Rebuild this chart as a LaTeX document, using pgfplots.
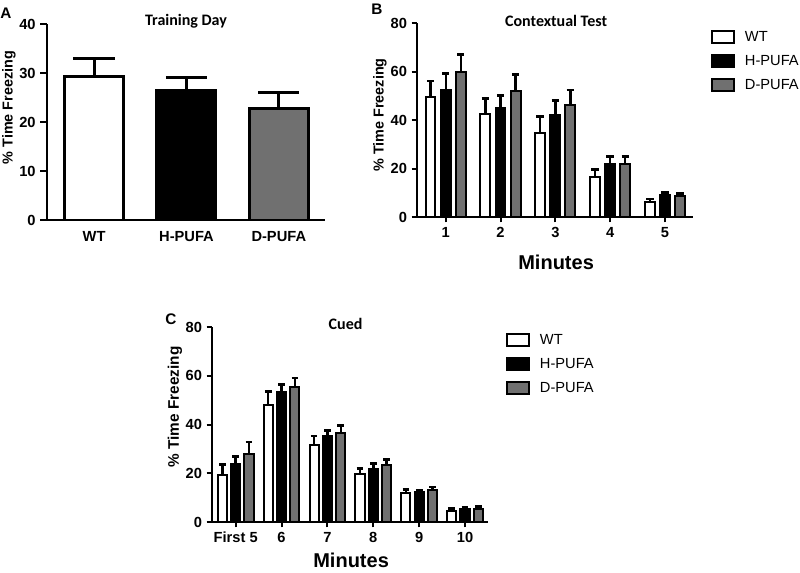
\documentclass[border=0pt]{standalone}
\usepackage{fontspec}
\setmainfont{Liberation Sans}
\newfontfamily\carlito{Carlito}
\usepackage{pgfplots}
\pgfplotsset{compat=1.18}
\definecolor{dgray}{RGB}{112,112,112}

\pgfplotsset{
  panel/.style={
    scale only axis,
    axis lines=left,
    axis line style={-, line width=1.5pt},
    ymin=0,
    ybar,
    clip=false,
    xtick pos=bottom, ytick pos=left,
    ytick style={line width=1.5pt, black},
    xtick style={line width=1.5pt, black},
    tick align=outside,
    major tick length=4pt,
    /pgf/number format/assume math mode=true,
    ticklabel style={font=\bfseries\fontsize{11}{13}\selectfont},
    ylabel={\% Time Freezing},
    ylabel style={font=\bfseries\fontsize{10.8}{12}\selectfont, anchor=center},
    title style={font=\carlito\bfseries\fontsize{12}{14}\selectfont, anchor=center},
    xlabel style={font=\bfseries\fontsize{15}{18}\selectfont, anchor=center},
    legend style={draw=none, fill=none, inner sep=0pt, outer sep=0pt,
      anchor=north west,
      nodes={inner sep=0pt, font=\fontsize{11}{13}\selectfont},
      row sep=7.5pt,
      /tikz/every odd column/.append style={column sep=7.5pt}},
    legend cell align=left,
    legend image code/.code={\draw[##1, line width=1.5pt] (0pt,-4.5pt) rectangle (16.5pt,4.5pt);},
  },
  errb/.style n args={3}{error bars/.cd, y dir=plus, y explicit,
    error bar style={line width=#1, black},
    error mark options={rotate=90, line width=#2, mark size=#3, black}},
}

\begin{document}
\begin{tikzpicture}
\useasboundingbox (0,0) rectangle (600pt,-429pt);

% ---------------- Panel A ----------------
\begin{axis}[panel, at={(35.25pt,-165pt)}, anchor=south west,
  width=208.5pt, height=147pt,
  xmin=0.49, xmax=3.5, ymax=40, ytick={0,10,20,30,40},
  xtick={1,2,3}, xticklabels={WT,H-PUFA,D-PUFA},
  xtick style={draw=none},
  major tick length=5pt,
  bar width=0.64,
  title={Training Day}, title style={at={(axis description cs:0.5,0.974)}},
  ylabel style={at={(axis description cs:-0.137,0.574)}}]
\addplot[fill=white, draw=black, line width=2.2pt, bar shift=0, errb={2.2pt}{2.2pt}{15.5pt}]
  coordinates {(1,29.2) +- (0,3.8)};
\addplot[fill=black, draw=black, line width=2.2pt, bar shift=0, errb={2.2pt}{2.2pt}{15.5pt}]
  coordinates {(2,26.5) +- (0,2.6)};
\addplot[fill=dgray, draw=black, line width=2.2pt, bar shift=0, errb={2.2pt}{2.2pt}{15.5pt}]
  coordinates {(3,22.8) +- (0,3.2)};
\end{axis}

% ---------------- Panel B ----------------
\begin{axis}[panel, at={(312.75pt,-162.75pt)}, anchor=south west,
  width=207pt, height=145.5pt,
  xmin=0.476, xmax=5.51, ymax=80, ytick={0,20,40,60,80},
  xtick={1,2,3,4,5},
  bar width=0.18,
  title={Contextual Test}, title style={at={(axis description cs:0.504,0.969)}},
  ylabel style={at={(axis description cs:-0.134,0.526)}},
  xlabel={Minutes}, xlabel style={at={(axis description cs:0.504,-0.232)}},
  legend style={at={(1.065,0.964)}}]
\addplot[fill=white, draw=black, line width=1.5pt, bar shift=-0.277, errb={1.8pt}{2pt}{2.8pt}]
  coordinates {(1,49.5) +- (0,6.6) (2,42.6) +- (0,6.3) (3,34.8) +- (0,6.6) (4,16.5) +- (0,3.0) (5,6.2) +- (0,1.2)};
\addplot[fill=black, draw=black, line width=1.5pt, bar shift=0, errb={1.8pt}{2pt}{2.8pt}]
  coordinates {(1,52.5) +- (0,6.6) (2,44.8) +- (0,5.4) (3,42.2) +- (0,5.8) (4,21.9) +- (0,3.0) (5,8.9) +- (0,1.3)};
\addplot[fill=dgray, draw=black, line width=1.5pt, bar shift=0.274, errb={1.8pt}{2pt}{2.8pt}]
  coordinates {(1,59.8) +- (0,7.1) (2,52.0) +- (0,6.7) (3,46.3) +- (0,6.1) (4,21.7) +- (0,3.2) (5,8.5) +- (0,1.3)};
\legend{WT,H-PUFA,D-PUFA}
\end{axis}

% ---------------- Panel C ----------------
\begin{axis}[panel, at={(159pt,-391.5pt)}, anchor=south west,
  width=207pt, height=146.25pt,
  xmin=0.484, xmax=6.5, ymax=80, ytick={0,20,40,60,80},
  xtick={1,2,3,4,5,6}, xticklabels={First 5,6,7,8,9,10},
  bar width=0.2,
  title={Cued}, title style={at={(axis description cs:0.484,0.976)}},
  ylabel style={at={(axis description cs:-0.134,0.59)}, font=\bfseries\fontsize{11.5}{13}\selectfont},
  xlabel={Minutes}, xlabel style={at={(axis description cs:0.504,-0.198)}},
  legend style={at={(1.065,0.969)}}]
\addplot[fill=white, draw=black, line width=1.5pt, bar shift=-0.29, errb={1.8pt}{2pt}{2.5pt}]
  coordinates {(1,19.2) +- (0,4.4) (2,47.9) +- (0,5.7) (3,31.7) +- (0,3.6) (4,19.6) +- (0,2.3) (5,12.0) +- (0,1.4) (6,4.5) +- (0,1.0)};
\addplot[fill=black, draw=black, line width=1.5pt, bar shift=0, errb={1.8pt}{2pt}{2.5pt}]
  coordinates {(1,24.0) +- (0,2.8) (2,53.3) +- (0,3.1) (3,35.2) +- (0,2.4) (4,21.9) +- (0,2.0) (5,12.2) +- (0,0.8) (6,5.3) +- (0,0.9)};
\addplot[fill=dgray, draw=black, line width=1.5pt, bar shift=0.29, errb={1.8pt}{2pt}{2.5pt}]
  coordinates {(1,28.0) +- (0,4.8) (2,55.4) +- (0,3.7) (3,36.5) +- (0,3.0) (4,23.5) +- (0,2.1) (5,13.3) +- (0,1.1) (6,5.3) +- (0,1.0)};
\legend{WT,H-PUFA,D-PUFA}
\end{axis}

% panel letters
\node[font=\bfseries\fontsize{11.5}{13}\selectfont] at (4.5pt,-9.75pt) {A};
\node[font=\bfseries\fontsize{11.5}{13}\selectfont] at (282.75pt,-6.75pt) {B};
\node[font=\bfseries\fontsize{11.5}{13}\selectfont] at (128.25pt,-239.25pt) {C};
\end{tikzpicture}
\end{document}
